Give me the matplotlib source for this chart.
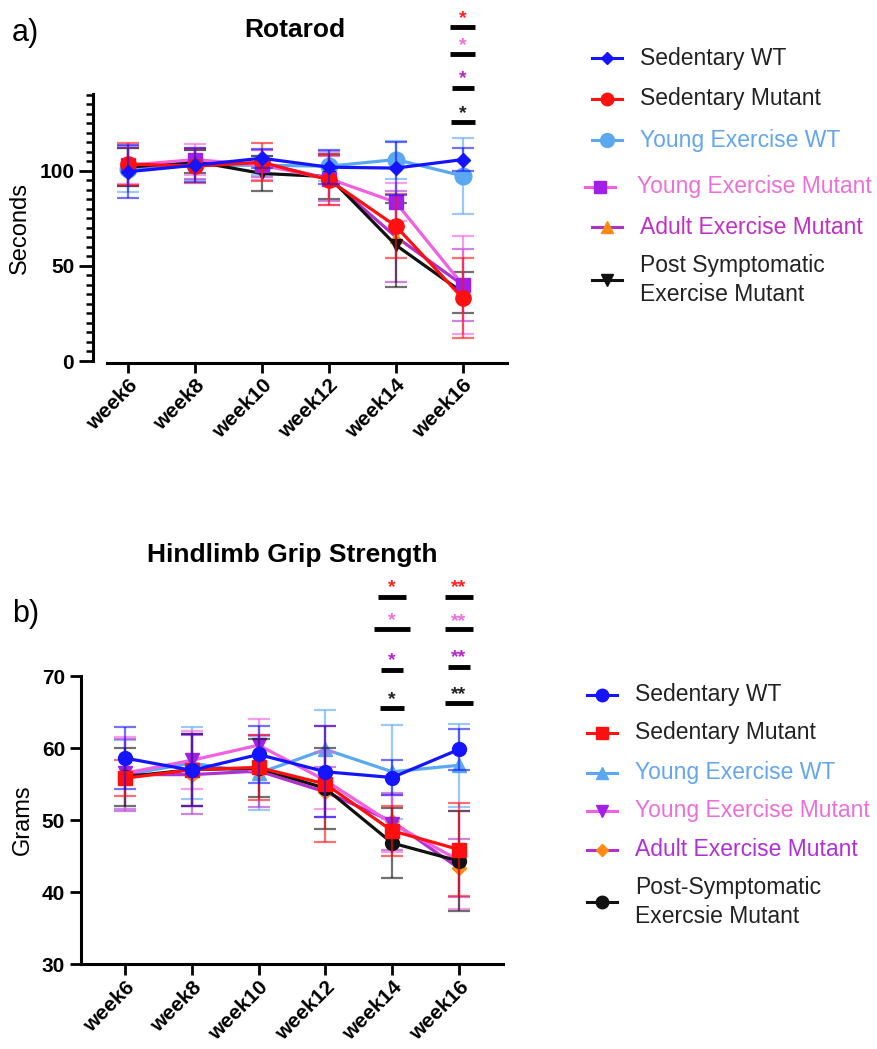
import matplotlib
matplotlib.use("Agg")
import matplotlib.pyplot as plt
from matplotlib.lines import Line2D

plt.rcParams['font.family'] = ['Liberation Sans', 'DejaVu Sans']

weeks = ['week6', 'week8', 'week10', 'week12', 'week14', 'week16']

# ---- Rotarod (seconds) ----
rot_sed_wt = [99.6, 103.0, 106.7, 102.0, 101.5, 106.0]
rot_sed_wt_err = [14, 9, 5, 9, 14, 6]
rot_sed_mut = [103.7, 102.5, 104.6, 95.3, 71.0, 33.0]
rot_sed_mut_err = [11, 9, 10, 13, 17, 21]
rot_yex_wt = [101.0, 103.0, 103.0, 102.5, 106.0, 97.4]
rot_yex_wt_err = [12, 8, 5, 8, 10, 20]
rot_yex_mut = [103.0, 106.0, 103.0, 96.0, 83.5, 40.0]
rot_yex_mut_err = [10, 8, 8, 14, 10, 26]
rot_aex_mut = [102.0, 104.0, 104.0, 96.0, 65.4, 40.0]
rot_aex_mut_err = [10, 8, 7, 12, 24, 19]
rot_pex_mut = [102.0, 105.0, 98.7, 97.0, 61.0, 36.0]
rot_pex_mut_err = [10, 6, 9, 12, 22, 11]

# ---- Hindlimb grip strength (grams) ----
grip_sed_wt = [58.6, 56.9, 59.1, 56.7, 55.9, 59.8]
grip_sed_wt_err = [4.3, 5.0, 4.0, 6.3, 2.4, 2.9]
grip_sed_mut = [55.8, 57.0, 57.3, 55.0, 48.5, 45.9]
grip_sed_mut_err = [2.5, 5.0, 4.5, 8.0, 3.5, 6.4]
grip_yex_wt = [56.3, 57.9, 56.5, 59.8, 56.7, 57.6]
grip_yex_wt_err = [4.8, 5.0, 5.1, 5.5, 6.5, 5.8]
grip_yex_mut = [56.5, 58.3, 60.4, 55.5, 49.5, 44.4]
grip_yex_mut_err = [5.0, 4.0, 3.6, 4.0, 4.0, 6.8]
grip_aex_mut = [56.3, 56.3, 56.8, 53.9, 49.8, 43.3]
grip_aex_mut_err = [5.0, 5.5, 5.0, 3.5, 4.0, 4.0]
grip_pex_mut = [56.0, 57.0, 57.2, 54.4, 46.8, 44.3]
grip_pex_mut_err = [4.0, 5.0, 4.0, 5.6, 4.8, 7.0]

# ---- significance annotations ----
sig_colors = ['#ff2020', '#ee70e0', '#b428c8', '#222222']
rot_sig_star_y = [183.7, 169.5, 152.0, 133.7]
rot_sig_bar_y = [175.8, 161.6, 143.7, 125.8]
rot_sig_bar_w = [0.37, 0.37, 0.33, 0.35]
grip14_sig_star_y = [83.2, 78.6, 73.1, 67.7]
grip14_sig_bar_y = [81.0, 76.5, 70.8, 65.5]
grip14_sig_bar_w = [0.42, 0.53, 0.32, 0.35]
grip16_sig_star_y = [83.2, 78.5, 73.5, 68.4]
grip16_sig_bar_y = [81.0, 76.5, 71.3, 66.2]
grip16_sig_bar_w = [0.41, 0.41, 0.32, 0.41]

# colours
C_BLUE = '#1414ff'
C_RED = '#ff1010'
C_LBLUE = '#5aa8f0'
C_PINK = '#f060e0'
C_PURPLE = '#a020e8'
C_MAG = '#b030d0'
C_ORANGE = '#ff8a10'
C_BLACK = '#111111'

W, H = 878, 1049
fig = plt.figure(figsize=(W / 100, H / 100), dpi=100)


def frac(px, py):
    return px / W, 1 - py / H


x = list(range(len(weeks)))


def series(ax, y, e, lc, mc, marker, ms, z):
    ax.errorbar(x, y, yerr=e, fmt='none', ecolor=lc, elinewidth=1.6,
                capsize=8, capthick=1.6, alpha=0.6, zorder=z)
    ax.plot(x, y, color=lc, lw=2.3, zorder=z + 0.5)
    ax.plot(x, y, ls='none', marker=marker, ms=ms, mfc=mc, mec=mc, zorder=z + 0.6)


def sig(ax, xi, stars, sy, by, w, c):
    ax.plot([xi - w / 2, xi + w / 2], [by, by], color='black', lw=3.5,
            solid_capstyle='butt', clip_on=False)
    ax.annotate(stars, (xi, sy), xytext=(0, -8), textcoords='offset points',
                color=c, fontsize=14, fontweight='bold', ha='center',
                va='baseline', annotation_clip=False)


# ================= Panel a =================
ax1 = fig.add_axes([93 / W, 1 - 361 / H, (507 - 93) / W, (361 - 94) / H])
series(ax1, rot_yex_wt, rot_yex_wt_err, C_LBLUE, C_LBLUE, 'o', 12, 2)
series(ax1, rot_aex_mut, rot_aex_mut_err, C_MAG, C_ORANGE, '^', 9, 3)
series(ax1, rot_pex_mut, rot_pex_mut_err, C_BLACK, C_BLACK, 'v', 9, 4)
series(ax1, rot_yex_mut, rot_yex_mut_err, C_PINK, C_PURPLE, 's', 10, 5)
series(ax1, rot_sed_mut, rot_sed_mut_err, C_RED, C_RED, 'o', 11, 6)
series(ax1, rot_sed_wt, rot_sed_wt_err, C_BLUE, C_BLUE, 'D', 7, 7)

ax1.set_xlim(-0.52, 5.66)
ax1.set_ylim(0, 140.5)
ax1.spines['top'].set_visible(False)
ax1.spines['right'].set_visible(False)
ax1.spines['left'].set_linewidth(2.2)
ax1.spines['bottom'].set_linewidth(2.2)
ax1.spines['bottom'].set_bounds(-0.31, 5.66)
ax1.spines['bottom'].set_position(('outward', 1.5))
ax1.set_yticks([0, 50, 100])
ax1.set_yticks(range(0, 141, 5), minor=True)
ax1.tick_params(axis='y', which='major', length=10, width=2, labelsize=15)
ax1.tick_params(axis='y', which='minor', length=5, width=1.8)
ax1.set_xticks(x)
ax1.set_xticklabels(weeks)
ax1.tick_params(axis='x', length=7, width=2, labelsize=15, pad=2)
for lab in ax1.get_xticklabels():
    lab.set_rotation(45)
    lab.set_ha('right')
    lab.set_rotation_mode('anchor')
    lab.set_fontweight('bold')
for lab in ax1.get_yticklabels():
    lab.set_fontweight('bold')
ax1.set_ylabel('Seconds', fontsize=17, labelpad=6)

for sy, by, w, c in zip(rot_sig_star_y, rot_sig_bar_y, rot_sig_bar_w, sig_colors):
    sig(ax1, 5, '*', sy, by, w, c)

fig.text(*frac(295, 30), 'Rotarod', fontsize=19, fontweight='bold',
         ha='center', va='center')
fig.text(*frac(12, 33), 'a)', fontsize=22, ha='left', va='center')

# ================= Panel b =================
ax2 = fig.add_axes([81 / W, 1 - 964 / H, (503 - 81) / W, (964 - 676) / H])
series(ax2, grip_yex_wt, grip_yex_wt_err, C_LBLUE, C_LBLUE, '^', 10, 2)
series(ax2, grip_aex_mut, grip_aex_mut_err, C_MAG, C_ORANGE, 'D', 7, 3)
series(ax2, grip_yex_mut, grip_yex_mut_err, C_PINK, C_PURPLE, 'v', 10, 4)
series(ax2, grip_pex_mut, grip_pex_mut_err, C_BLACK, C_BLACK, 'o', 10, 5)
series(ax2, grip_sed_mut, grip_sed_mut_err, C_RED, C_RED, 's', 10, 6)
series(ax2, grip_sed_wt, grip_sed_wt_err, C_BLUE, C_BLUE, 'o', 10, 7)

ax2.set_xlim(-0.66, 5.66)
ax2.set_ylim(30, 70)
ax2.spines['top'].set_visible(False)
ax2.spines['right'].set_visible(False)
ax2.spines['left'].set_linewidth(2.2)
ax2.spines['bottom'].set_linewidth(2.2)
ax2.set_yticks([30, 40, 50, 60, 70])
ax2.tick_params(axis='y', length=8, width=2, labelsize=15)
ax2.set_xticks(x)
ax2.set_xticklabels(weeks)
ax2.tick_params(axis='x', length=8, width=2, labelsize=15, pad=2)
for lab in ax2.get_xticklabels():
    lab.set_rotation(45)
    lab.set_ha('right')
    lab.set_rotation_mode('anchor')
    lab.set_fontweight('bold')
for lab in ax2.get_yticklabels():
    lab.set_fontweight('bold')
ax2.set_ylabel('Grams', fontsize=17, labelpad=6)

for xi, stars, sys, bys, ws in [(4, '*', grip14_sig_star_y, grip14_sig_bar_y, grip14_sig_bar_w),
                                (5, '**', grip16_sig_star_y, grip16_sig_bar_y, grip16_sig_bar_w)]:
    for sy, by, w, c in zip(sys, bys, ws, sig_colors):
        sig(ax2, xi, stars, sy, by, w, c)

fig.text(*frac(292, 555), 'Hindlimb Grip Strength', fontsize=19,
         fontweight='bold', ha='center', va='center')
fig.text(*frac(12, 614), 'b)', fontsize=22, ha='left', va='center')


# ================= Legends =================
def legend_entry(px0, px1, py, lc, mc, marker, ms, label, tc, tx):
    fx0, fy = frac(px0, py)
    fx1, _ = frac(px1, py)
    fig.add_artist(Line2D([fx0, fx1], [fy, fy], color=lc, lw=2.2,
                          transform=fig.transFigure))
    fig.add_artist(Line2D([(fx0 + fx1) / 2], [fy], ls='none', marker=marker,
                          ms=ms, mfc=mc, mec=mc, transform=fig.transFigure))
    fig.text(*frac(tx, py), label, color=tc, fontsize=16.5,
             ha='left', va='center', linespacing=1.3)


legend_a = [
    (58, 592, 640, C_BLUE, C_BLUE, 'D', 6, 'Sedentary WT', '#222222'),
    (99, 592, 640, C_RED, C_RED, 'o', 9, 'Sedentary Mutant', '#222222'),
    (140, 592, 640, C_LBLUE, C_LBLUE, 'o', 10, 'Young Exercise WT', '#63a5ef'),
    (187, 585, 637, C_PINK, C_PURPLE, 's', 9, 'Young Exercise Mutant', '#ec6fd8'),
    (227, 592, 640, C_MAG, C_ORANGE, '^', 9, 'Adult Exercise Mutant', '#c030c8'),
    (280, 592, 640, C_BLACK, C_BLACK, 'v', 8, 'Post Symptomatic\nExercise Mutant', '#222222'),
]
for py, hx, tx, lc, mc, mk, ms, lab, tc in legend_a:
    legend_entry(hx, hx + 30, py, lc, mc, mk, ms, lab, tc, tx)

legend_b = [
    (695, C_BLUE, C_BLUE, 'o', 9, 'Sedentary WT', '#222222'),
    (733, C_RED, C_RED, 's', 9, 'Sedentary Mutant', '#222222'),
    (773, C_LBLUE, C_LBLUE, '^', 9, 'Young Exercise WT', '#63a5ef'),
    (811, C_PINK, C_PURPLE, 'v', 9, 'Young Exercise Mutant', '#ec6fd8'),
    (850, C_MAG, C_ORANGE, 'D', 6, 'Adult Exercise Mutant', '#b030d8'),
    (902, C_BLACK, C_BLACK, 'o', 9, 'Post-Symptomatic\nExercsie Mutant', '#222222'),
]
for py, lc, mc, mk, ms, lab, tc in legend_b:
    legend_entry(587, 617, py, lc, mc, mk, ms, lab, tc, 635)

fig.savefig('out.png', dpi=100)
